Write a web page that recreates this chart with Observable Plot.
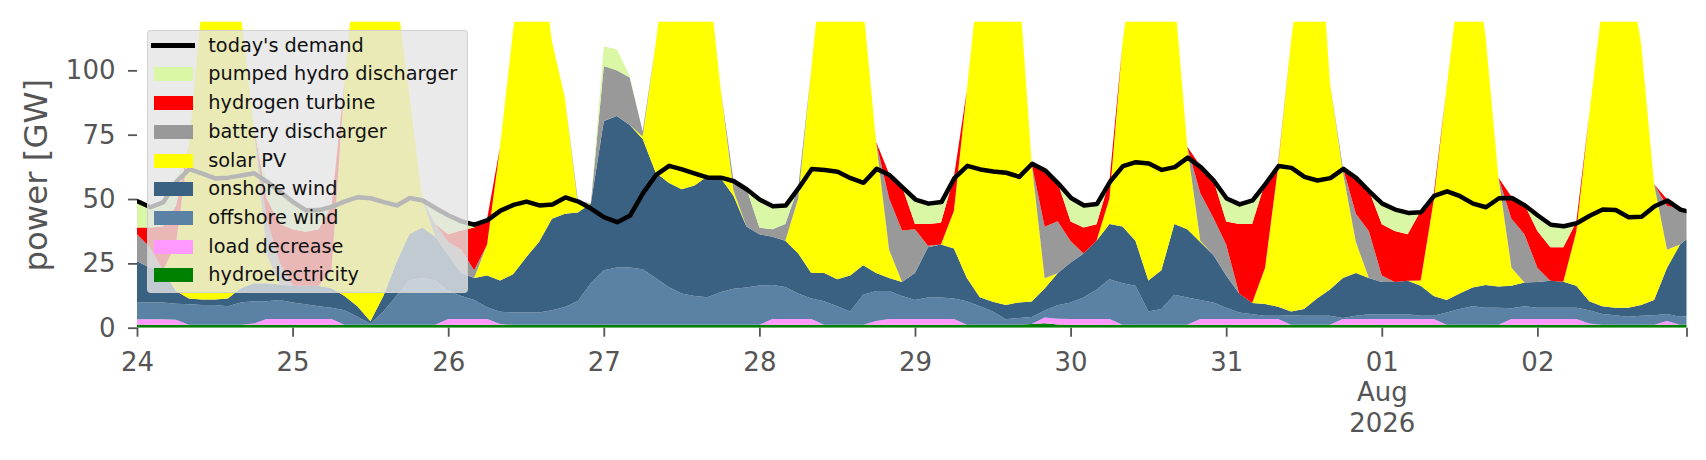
<!DOCTYPE html>
<html>
<head>
<meta charset="utf-8">
<script src="https://cdn.jsdelivr.net/npm/d3@7"></script>
<script src="https://cdn.jsdelivr.net/npm/@observablehq/plot@0.6"></script>
<style>
html, body { margin: 0; padding: 0; background: #fff; }
#wrap { position: relative; width: 1706px; height: 460px; overflow: hidden; font-family: "DejaVu Sans", sans-serif; }
#chart { position: absolute; left: 0; top: 0; }
#legend { position: absolute; left: 146.7px; top: 30px; width: 321.6px; height: 263px; box-sizing: border-box;
  background: rgba(229,229,229,0.8); border: 1px solid rgba(204,204,204,0.8); border-radius: 4px; }
.sw { position: absolute; }
.lt { position: absolute; font-size: 19.3px; line-height: 24px; height: 24px; color: #111; white-space: nowrap; }
</style>
</head>
<body>
<div id="wrap"><div id="chart"></div><div id="legend"></div></div>
<script>
// ---- data: 2-hourly values from 2026-07-24 00:00 UTC (121 points, last = Aug 3 00:00) ----
const startUTC = Date.UTC(2026, 6, 24);
const stepHours = 2;

const hydro = [
  1.1,1.1,1.1,1.1,1.1,1.1,1.1,1.1,1.1,1.1,1.1,1.1,
  1.1,1.1,1.1,1.1,1.1,1.1,1.1,1.1,1.1,1.1,1.1,1.1,
  1.1,1.1,1.1,1.1,1.1,1.1,1.1,1.1,1.1,1.1,1.1,1.1,
  1.1,1.1,1.1,1.1,1.1,1.1,1.1,1.1,1.1,1.1,1.1,1.1,
  1.1,1.1,1.1,1.1,1.1,1.1,1.1,1.1,1.1,1.1,1.1,1.1,
  1.1,1.1,1.1,1.1,1.1,1.1,1.1,1.1,1.1,1.4,1.7,1.2,
  1.1,1.1,1.1,1.1,1.1,1.1,1.1,1.1,1.1,1.1,1.1,1.1,
  1.1,1.1,1.1,1.1,1.1,1.1,1.1,1.1,1.1,1.1,1.1,1.1,
  1.1,1.1,1.1,1.1,1.1,1.1,1.1,1.1,1.1,1.1,1.1,1.1,
  1.1,1.1,1.1,1.1,1.1,1.1,1.1,1.1,1.1,1.1,1.1,1.1,
  1.1];
const loadDecrease = [
  2.2,2.2,2.2,2.0,0,0,0,0,0,0.5,2.3,2.3,
  2.3,2.3,2.3,2.3,0,0,0,0,0,0,0,0,
  2.3,2.3,2.3,2.3,0.3,0,0,0,0,0,0,0,
  0,0,0,0,0,0,0,0,0,0,0,0,
  0,2.3,2.3,2.3,2.3,0,0,0,0,1.5,2.3,2.3,
  2.3,2.3,2.3,2.3,0,0,0,0,0,0,2.3,2.3,
  2.3,2.3,2.3,2.3,0,0,0,0,0,0,2.3,2.3,
  2.3,2.3,2.3,2.3,2.3,0,0,0,0,2.3,2.3,2.3,
  2.3,2.3,2.3,2.3,2.3,0,0,0,0,0,2.3,2.3,
  2.3,2.3,2.3,2.3,0.5,0,0,0,0,0,1.5,0,
  0];
const offshoreWind = [
  6.5,6.5,6.5,6.2,8,7.7,7.7,7.2,8.7,8.7,6.9,7.4,
  6.4,5.7,4.9,4.4,5.7,3.2,0.4,5.2,11.2,17.2,18.2,17.2,
  10.9,8.9,7.4,4.5,4.8,4.8,4.8,4.8,5.7,6.9,9.3,16.2,
  21.2,22.3,22.3,21.6,18.2,14.7,12.2,11.2,10.7,12.7,14,14.5,
  15.3,13.2,12.4,9.9,7.9,9.2,7.2,5.2,11.7,11.7,10.9,8.9,
  7.4,8.3,8.3,7.9,9.2,7.2,5.2,2.2,2.7,2.8,2.7,5.2,
  6.4,8.3,11.4,15.4,16.2,15.2,5.2,6.2,11.7,10.6,7.4,6.4,
  4.4,2.5,1.8,1.2,1.2,3.7,3.5,3.5,3.5,0.4,1.2,1.8,
  1.8,1.8,1.8,1.2,1.2,4.8,6.2,7.2,6.7,6.7,4.2,4.9,
  4.4,4.4,4.4,4.4,5.2,4.2,3.7,3.2,3.5,3.7,2.7,3.2,
  3.5];
const onshoreWind = [
  16,13.5,12.5,5,2.2,2.2,2.2,3,5.5,7,7,6,
  6.5,7.2,8,7.5,5.5,4,1,6,13,18,19.6,17,
  14,9,8.5,12.4,12.1,14.9,21.4,27.4,35.5,36.3,34.4,31,
  58,58.9,55.4,50.6,41,40.5,40.5,43,47,44.5,36.2,23.7,
  19.9,18.7,18,15.5,10,11,10.5,14,11.5,7,5,5.5,
  10.5,19.6,20.6,19.5,9,3.5,3.8,5.5,6,6,8.5,12.5,
  15.5,17.1,19,21.5,22,17.5,12,15,27.5,26.6,22.5,18.5,
  12.5,7.4,4.4,4.6,3.5,1.5,2.7,6.7,10.2,15.5,16.7,14.1,
  12.6,12.6,13,11.7,7.7,4.9,6,7.3,8.8,8.2,8.7,9.3,
  10,10.4,10.1,8.5,3.5,3,3,3.5,4.2,6,18,28,
  31.7];
const solarPV = [
  0,0,0,18,59,114.3,164.3,149,107,61,11,0,
  0,0,0,7,83,142,177,158,105,54,11,0,
  0,0,0,12,52,94.5,123,117,69,45,3.2,0,
  0,0,0,1,50,94,116.5,115,81.5,35,2,0,
  0,0,0,21.5,79,129,151.5,130,101,51,11,0,
  0,0,0,14.5,73,128.5,160,161.5,125.5,53.5,4,0,
  0,0,0,10,71,116.5,152,138,90,32,0.5,0,
  0,0,0,14.1,54.2,105,143,159,80.5,41,12,0,
  0,0,0,2,37,82.5,122,134.7,96.7,42.3,7,0,
  0,0,0,21,72.6,117,142.5,132.5,101.5,44.9,7,0,
  0];
const batteryDischarger = [
  10.5,8,0,0,0,0,0,0,0,0,14,8.5,
  0,0,0,0,0,0,0,0,0,0,0,5,
  5,9,3,0,0,0,0,0,0,0,1.5,0,
  21.4,17.7,18.4,2,0,0,0,0,0,0,4.1,14.9,
  2.6,3,6.5,4.5,0,0,0,0,0,0,20,20,
  17,0.5,0,0,0,0,0,0,0,0,20,20.2,
  8.4,0,0,0,0,0,0,0,0,0,18.5,14.5,
  12,0,0,0,0,0,0,0,0,1.9,11,18.3,
  2.5,0,0,0,0,0,0,0,0,0,19,18.7,
  5.5,0,0,0,0,0,0,0,0,0,17,14.1,
  8.8];
const hydrogenTurbine = [
  2.6,7.6,17,15,0,0,0,0,0,0,8,15,
  22,21,22,25.2,0,0,0,0,0,0,0,0,
  3,7.5,16.6,10,0,0,0,0,0,0,0,0,
  0,0,0,0,0,0,0,0,0,0,0,0,
  0,0,0,0,0,0,0,0,0,0,9.5,17.2,
  2,8.5,8.5,13.3,0,0,0,0,0,0,22.3,15.1,
  7.6,10.1,6.4,6.9,0,0,0,0,0,0,10.6,14.9,
  9,27,30.7,33.1,1,0,0,0,0,0,14.3,15.9,
  19.9,19.8,18.1,27.1,2.4,0,0,0,0,0,8.6,11.7,
  14.3,13.1,13.4,3.8,0,0,0,0,0,0,2.6,0,
  0];
const pumpedHydro = [
  10.7,8.4,10,10,0,0,0,0,0,0,6.9,13,
  11,8.8,7.9,0,0,0,0,0,0,0,0,6.6,
  7.8,4,1.6,0,0,0,0,0,0,0,0,0,
  7.6,8.2,0.6,0,0,0,0,0,0,0,0,0,
  11.3,9.4,7.7,0,0,0,0,0,0,0,0,0,
  10,8.4,8.5,0,0,0,0,0,0,0,0,0,
  9.6,9.1,8.4,0,0,0,0,0,0,0,0,0,
  9.4,8.1,9.7,0,0,0,0,0,0,0,0,0,
  8.5,8.8,8.8,0,0,0,0,0,0,0,0,0,
  6.5,9.2,8.6,0,0,0,0,0,0,0,0,0,
  0];
const demand = [
  49.3,47,49,57,61.8,60.1,58.2,58.5,59.3,60.2,56.9,53,
  49,45.8,45.9,47.2,49.3,50.9,50.5,49,47.7,50.6,49.6,46.6,
  43.8,41.5,40.2,42,45.7,47.9,49.2,47.7,48.1,50.8,49.2,46.4,
  43.1,41.2,43.8,52.6,59.6,63.1,61.7,60.1,58.5,58.5,57.1,53.9,
  49.9,47.4,47.7,54.5,61.9,61.5,60.8,58.3,56.5,61.9,59.5,54.7,
  50,48.4,49,58.3,63.1,61.7,60.9,60.4,58.8,63.9,61.3,56.3,
  50.6,47.7,48.3,56.9,63,64.5,64,61.5,62.6,66.3,62.6,57.4,
  50.4,48.1,49.7,56.1,63,62.3,58.8,57.4,58.3,61.9,58.3,53.2,
  48.4,46.1,44.8,45.1,51.4,53.2,51.3,48.4,47,50.5,50.6,47.7,
  43.8,40.2,39.6,40.8,43.7,46.1,45.9,43.1,43.3,47.4,49.6,46.1,
  44.8];

// stacking order bottom -> top, with colours
const seriesNames = ["hydroelectricity", "load decrease", "offshore wind", "onshore wind",
  "solar PV", "battery discharger", "hydrogen turbine", "pumped hydro discharger"];
const seriesColors = ["#008000", "#ff99ff", "#5b82a4", "#3b6182", "#ffff00", "#999999", "#ff0000", "#daf7a6"];
const seriesValues = [hydro, loadDecrease, offshoreWind, onshoreWind, solarPV, batteryDischarger, hydrogenTurbine, pumpedHydro];

const demandLabel = "today's demand";
const legendOrder = [demandLabel, "pumped hydro discharger", "hydrogen turbine", "battery discharger",
  "solar PV", "onshore wind", "offshore wind", "load decrease", "hydroelectricity"];

const yTicks = [0, 25, 50, 75, 100];
const yMax = 118.9;
const yLabel = "power [GW]";
const xTickDays = [24, 25, 26, 27, 28, 29, 30, 31, 1, 2];
const xTickLabels = ["24", "25", "26", "27", "28", "29", "30", "31", "01\nAug\n2026", "02"];

// ---- build tables ----
const times = demand.map((_, i) => new Date(startUTC + i * stepHours * 3600e3));
const rows = [];
seriesNames.forEach((name, k) => seriesValues[k].forEach((v, i) => rows.push({time: times[i], series: name, value: v})));
const demandRows = demand.map((v, i) => ({time: times[i], value: v}));

const xStart = new Date(startUTC);
const xEnd = new Date(Date.UTC(2026, 7, 2, 23));
const xTicks = xTickDays.map(d => new Date(Date.UTC(2026, d >= 24 ? 6 : 7, d)));
const tickLabelMap = new Map(xTicks.map((d, i) => [+d, xTickLabels[i]]));
const allXTicks = [...xTicks, xEnd];

const chart = Plot.plot({
  width: 1706,
  height: 460,
  marginLeft: 137,
  marginRight: 19.5,
  marginTop: 21.7,
  marginBottom: 132.3,
  style: {fontFamily: "DejaVu Sans, sans-serif", color: "#555", background: "white", overflow: "visible"},
  x: {type: "utc", domain: [xStart, xEnd], axis: null},
  y: {domain: [0, yMax], axis: null},
  color: {domain: seriesNames, range: seriesColors},
  marks: [
    Plot.areaY(rows, {x: "time", y: "value", z: "series", fill: "series", order: seriesNames, curve: "linear", clip: true}),
    Plot.lineY(demandRows, {x: "time", y: "value", stroke: "#000", strokeWidth: 4.5, clip: true}),
    Plot.axisY({ticks: yTicks, tickSize: 9, tickPadding: 13, fontSize: 26, strokeWidth: 1.8, label: null}),
    Plot.axisX({ticks: allXTicks, tickFormat: d => tickLabelMap.get(+d) ?? "", tickSize: 9, tickPadding: 12,
      fontSize: 26, lineHeight: 1.17, strokeWidth: 1.8, label: null}),
    Plot.text([yLabel], {frameAnchor: "left", textAnchor: "middle", lineAnchor: "middle", dx: -101, rotate: -90, fontSize: 32.4, fill: "#555"})
  ]
});
document.getElementById("chart").appendChild(chart);

// ---- legend overlay ----
const colorOf = new Map(seriesNames.map((n, i) => [n, seriesColors[i]]));
const legend = document.getElementById("legend");
legendOrder.forEach((name, i) => {
  const cy = 14.7 + i * 28.7;
  const sw = document.createElement("div");
  sw.className = "sw";
  if (name === demandLabel) {
    Object.assign(sw.style, {left: "3px", top: (cy - 2.5) + "px", width: "44px", height: "5px", background: "#000"});
  } else {
    Object.assign(sw.style, {left: "6.3px", top: (cy - 7) + "px", width: "38.7px", height: "14px", background: colorOf.get(name)});
  }
  legend.appendChild(sw);
  const t = document.createElement("div");
  t.className = "lt";
  t.style.left = "60.6px";
  t.style.top = (cy - 12) + "px";
  t.textContent = name;
  legend.appendChild(t);
});
</script>
</body>
</html>
